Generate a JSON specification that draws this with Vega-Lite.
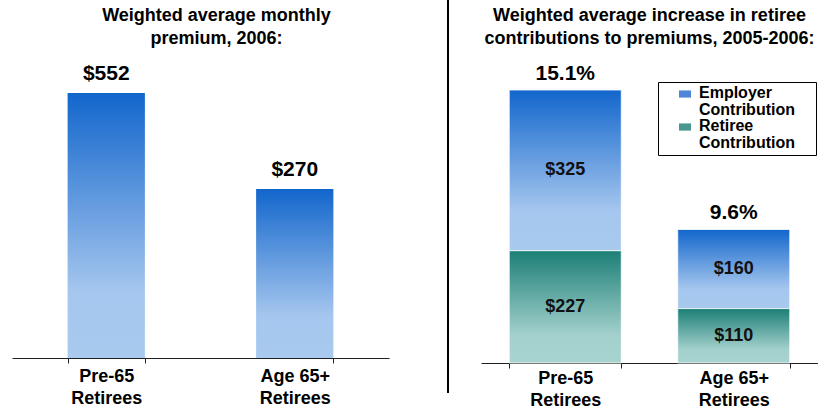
{
  "$schema": "https://vega.github.io/schema/vega-lite/v6.json",
  "padding": {"left": 12, "top": 0, "right": 0, "bottom": 0},
  "background": "white",
  "config": {
    "view": {"stroke": null},
    "font": "Liberation Sans",
    "title": {"font": "Liberation Sans", "fontSize": 18, "fontWeight": "bold", "lineHeight": 23, "color": "#000000", "offset": -48, "anchor": "middle"},
    "axisX": {
      "title": null, "labelAngle": 0, "labelFont": "Liberation Sans", "labelFontSize": 18, "labelFontWeight": "bold",
      "labelColor": "#000000", "labelLineHeight": 22, "labelPadding": 1, "tickSize": 5, "tickColor": "#222222",
      "domainColor": "#222222", "domainWidth": 1, "tickWidth": 1, "tickBand": "extent", "grid": false,
      "labelExpr": "indexof(datum.label, ' Retirees') > 0 ? [slice(datum.label, 0, indexof(datum.label, ' Retirees')), 'Retirees'] : ''"
    }
  },
  "resolve": {"scale": {"color": "independent"}, "legend": {"color": "independent"}},
  "spacing": 56,
  "hconcat": [
    {
      "width": 377,
      "height": 358,
      "title": {"text": ["Weighted average monthly", "premium, 2006:"], "dx": 16},
      "data": {"values": [
        {"group": "Pre-65 Retirees", "premium": 552},
        {"group": "Age 65+ Retirees", "premium": 270}
      ]},
      "encoding": {
        "x": {"field": "group", "type": "nominal", "scale": {"domain": ["Pre-65 Retirees", "Age 65+ Retirees"], "paddingInner": 0.59, "paddingOuter": 0.295}, "axis": {"labelPadding": 4}},
        "y": {"field": "premium", "type": "quantitative", "scale": {"type": "pow", "exponent": 0.629, "domain": [0, 890], "nice": false}, "axis": null}
      },
      "layer": [
        {"mark": {"type": "bar", "color": {"gradient": "linear", "x1": 0, "y1": 0, "x2": 0, "y2": 1, "stops": [{"offset": 0, "color": "#1266cc"}, {"offset": 0.75, "color": "#a5c6ee"}, {"offset": 1, "color": "#a9caee"}]}}},
        {"mark": {"type": "text", "fontSize": 21, "fontWeight": "bold", "dy": -19, "color": "#000000"},
         "encoding": {"text": {"field": "premium", "type": "quantitative", "format": "$.0f"}}}
      ]
    },
    {
      "spacing": 30,
      "resolve": {"scale": {"color": "independent"}, "legend": {"color": "independent"}},
      "hconcat": [
        {
          "width": 2,
          "height": 393,
          "view": {"fill": "#000000", "stroke": null},
          "data": {"values": [{}]},
          "mark": {"type": "point", "opacity": 0},
          "encoding": {}
        },
        {
          "width": 337,
          "height": 363,
          "title": {"text": ["Weighted average increase in retiree", "contributions to premiums, 2005-2006:"]},
          "encoding": {
            "x": {"field": "group", "type": "nominal", "scale": {"domain": ["Pre-65 Retirees", "Age 65+ Retirees"], "paddingInner": 0.335, "paddingOuter": 0.1675}}
          },
          "layer": [
            {
              "data": {"values": [
                {"group": "Pre-65 Retirees", "part": "Employer Contribution", "amount": 325, "ord": 2},
                {"group": "Pre-65 Retirees", "part": "Retiree Contribution", "amount": 227, "ord": 1},
                {"group": "Age 65+ Retirees", "part": "Employer Contribution", "amount": 160, "ord": 2},
                {"group": "Age 65+ Retirees", "part": "Retiree Contribution", "amount": 110, "ord": 1}
              ]},
              "layer": [
                {
                  "mark": {"type": "bar", "opacity": 0},
                  "encoding": {
                    "y": {"field": "amount", "type": "quantitative", "stack": "zero", "scale": {"domain": [0, 734], "nice": false}, "axis": null},
                    "order": {"field": "ord", "type": "quantitative"},
                    "color": {
                      "field": "part", "type": "nominal",
                      "scale": {"domain": ["Employer Contribution", "Retiree Contribution"], "range": ["#4f86d8", "#4a9791"]},
                      "legend": {
                        "orient": "none", "legendX": 177, "legendY": 82,
                        "title": " ", "titleOrient": "right", "titlePadding": 17,
                        "strokeColor": "#000000", "padding": 4,
                        "symbolOffset": 15, "symbolType": "M-1,-0.6H1V0.6H-1Z", "symbolSize": 144, "symbolStrokeWidth": 0, "symbolOpacity": 1,
                        "labelFont": "Liberation Sans", "labelFontSize": 16, "labelFontWeight": "bold", "labelColor": "#000000",
                        "labelOffset": 6, "rowPadding": 0,
                        "labelExpr": "split(datum.label, ' ')",
                        "encode": {"labels": {"update": {"lineHeight": {"value": 17}, "dy": {"value": -1}}}}
                      }
                    }
                  }
                },
                {
                  "transform": [
                    {"stack": "amount", "groupby": ["group"], "sort": [{"field": "ord", "order": "ascending"}], "as": ["y0", "y1"]},
                    {"filter": "datum.part == 'Employer Contribution'"}
                  ],
                  "mark": {"type": "bar", "stroke": "#ffffff", "strokeWidth": 1, "strokeOpacity": 0.8,
                           "color": {"gradient": "linear", "x1": 0, "y1": 0, "x2": 0, "y2": 1, "stops": [{"offset": 0, "color": "#1266cc"}, {"offset": 0.75, "color": "#a5c6ee"}, {"offset": 1, "color": "#a9caee"}]}},
                  "encoding": {
                    "y": {"field": "y1", "type": "quantitative"},
                    "y2": {"field": "y0"}
                  }
                },
                {
                  "transform": [
                    {"stack": "amount", "groupby": ["group"], "sort": [{"field": "ord", "order": "ascending"}], "as": ["y0", "y1"]},
                    {"filter": "datum.part == 'Retiree Contribution'"}
                  ],
                  "mark": {"type": "bar", "stroke": "#ffffff", "strokeWidth": 1, "strokeOpacity": 0.8,
                           "color": {"gradient": "linear", "x1": 0, "y1": 0, "x2": 0, "y2": 1, "stops": [{"offset": 0, "color": "#1c7f77"}, {"offset": 0.75, "color": "#a3d0cc"}, {"offset": 1, "color": "#a8d4d0"}]}},
                  "encoding": {
                    "y": {"field": "y1", "type": "quantitative"},
                    "y2": {"field": "y0"}
                  }
                },
                {
                  "mark": {"type": "text", "fontSize": 18, "fontWeight": "bold", "color": "#111111"},
                  "encoding": {
                    "y": {"field": "amount", "type": "quantitative", "stack": "zero", "bandPosition": 0.5},
                    "detail": {"field": "part", "type": "nominal"},
                    "order": {"field": "ord", "type": "quantitative"},
                    "text": {"field": "amount", "type": "quantitative", "format": "$.0f"}
                  }
                }
              ]
            },
            {
              "data": {"values": [
                {"group": "Pre-65 Retirees", "total": 552, "increase": 0.151},
                {"group": "Age 65+ Retirees", "total": 270, "increase": 0.096}
              ]},
              "mark": {"type": "text", "fontSize": 21, "fontWeight": "bold", "dy": -16, "color": "#000000"},
              "encoding": {
                "y": {"field": "total", "type": "quantitative"},
                "text": {"field": "increase", "type": "quantitative", "format": ".1%"}
              }
            }
          ]
        }
      ]
    }
  ]
}
